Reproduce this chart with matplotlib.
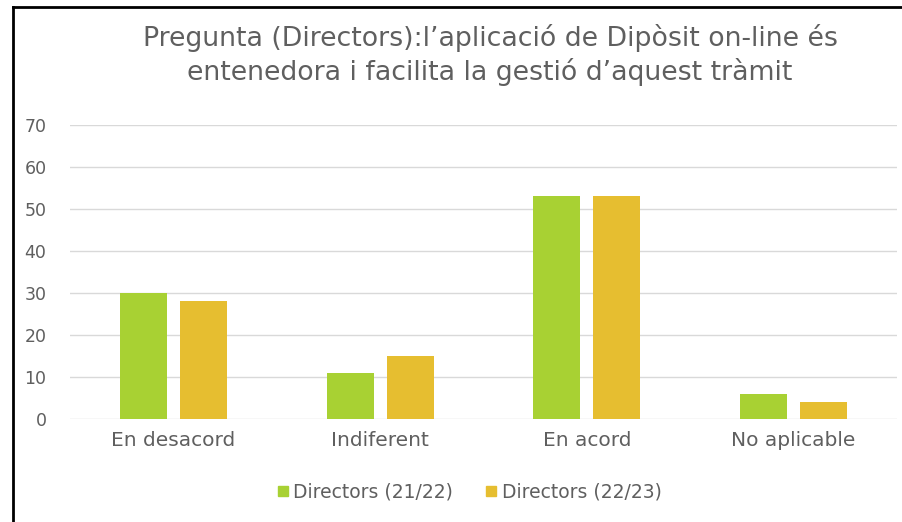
import matplotlib
matplotlib.use("Agg")
import matplotlib.pyplot as plt
from matplotlib.lines import Line2D
import numpy as np

categories = ["En desacord", "Indiferent", "En acord", "No aplicable"]
series_names = ["Directors (21/22)", "Directors (22/23)"]
values_2122 = [30, 11, 53, 6]
values_2223 = [28, 15, 53, 4]
yticks = [0, 10, 20, 30, 40, 50, 60, 70]
title = "Pregunta (Directors):l\u2019aplicació de Dipòsit on-line és\nentenedora i facilita la gestió d\u2019aquest tràmit"

colors = ["#A8D133", "#E6BE30"]
text_color = "#5F5F5F"
font = ["DejaVu Sans"]

W, H = 902, 522
fig = plt.figure(figsize=(W / 100, H / 100), dpi=100)
fig.patch.set_facecolor("white")

# plot area in pixels: x 70..897, y 125..419
ax = fig.add_axes([70 / W, 1 - 419 / H, (897 - 70) / W, (419 - 125) / H])
x = np.arange(len(categories))
bw = 0.227
gap = 0.063
ax.bar(x - (bw + gap) / 2, values_2122, width=bw, color=colors[0], label=series_names[0], zorder=3)
ax.bar(x + (bw + gap) / 2, values_2223, width=bw, color=colors[1], label=series_names[1], zorder=3)

ax.set_xlim(-0.5, len(categories) - 0.5)
ax.set_ylim(0, 70)
ax.set_yticks(yticks)
ax.set_yticklabels([str(t) for t in yticks], fontsize=12.5, color=text_color, family=font)
ax.set_xticks(x)
ax.set_xticklabels(categories, fontsize=14.5, color=text_color, family=font)
ax.tick_params(axis="both", length=0)
ax.tick_params(axis="y", pad=17)
ax.tick_params(axis="x", pad=9)
ax.yaxis.grid(True, color="#D9D9D9", linewidth=1, zorder=0)
for s in ax.spines.values():
    s.set_visible(False)

fig.text(490 / W, 1 - 55 / H, title, ha="center", va="center", fontsize=19.3,
         color=text_color, family=font, linespacing=1.25)

handles = [Line2D([0], [0], marker="s", linestyle="none", markersize=6.5,
                  markerfacecolor=c, markeredgecolor=c) for c in colors]
fig.legend(handles, series_names, loc="center", bbox_to_anchor=(469 / W, 1 - 492 / H),
           ncol=2, frameon=False, prop={"family": font, "size": 13.5},
           labelcolor=text_color, handletextpad=0.2, columnspacing=1.7, handlelength=0.7)

# border lines (left and top)
fig.add_artist(Line2D([12.5 / W, 12.5 / W], [0, 1 - 7 / H], transform=fig.transFigure,
                      color="black", linewidth=2))
fig.add_artist(Line2D([12.5 / W, 1], [1 - 7 / H, 1 - 7 / H], transform=fig.transFigure,
                      color="black", linewidth=2))

fig.savefig("out.png", dpi=100)
